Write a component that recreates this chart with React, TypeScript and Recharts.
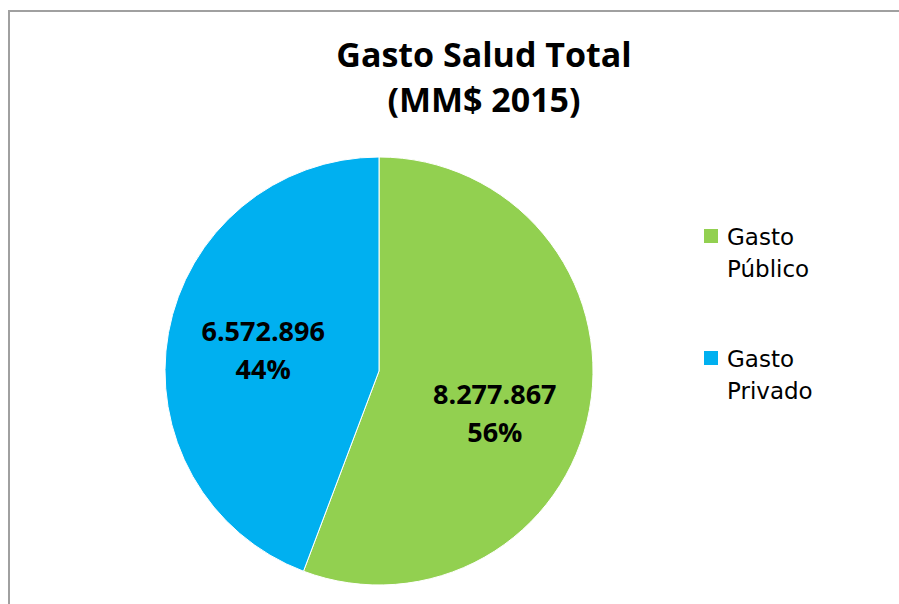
import { PieChart, Pie, Cell } from "recharts";

const categories = ["Gasto Público", "Gasto Privado"];
const values = [8277867, 6572896];
const colors = ["#92D050", "#00B0F0"];

const data = categories.map((name, i) => ({ name, value: values[i] }));
const total = values.reduce((s, v) => s + v, 0);

const fmt = (v: number) => v.toString().replace(/\B(?=(\d{3})+(?!\d))/g, ".");

const labelFont = "'Open Sans', 'DejaVu Sans', sans-serif";

// Excel-style inside label: value on first line, percent on second
const renderLabel = ({ cx, cy, midAngle, outerRadius, index }: any) => {
  const RAD = Math.PI / 180;
  const r = outerRadius * 0.55;
  const x = cx + r * Math.cos(-midAngle * RAD);
  // first slice label sits a bit lower, like in the original
  const y = cy + r * Math.sin(-midAngle * RAD) + (index === 0 ? 21 : 0);
  const pct = Math.round((values[index] / total) * 100);
  return (
    <text
      x={x}
      y={y}
      textAnchor="middle"
      fill="#000"
      fontFamily={labelFont}
      fontWeight={700}
      fontSize={27}
    >
      <tspan x={x} dy={-9}>{fmt(values[index])}</tspan>
      <tspan x={x} dy={38}>{pct + "%"}</tspan>
    </text>
  );
};

export default function App() {
  return (
    <div
      style={{
        position: "absolute",
        left: 0,
        top: 0,
        width: 899,
        height: 604,
        overflow: "hidden",
        background: "#fff",
      }}
    >
      <div
        style={{
          position: "absolute",
          left: 8,
          top: 10,
          width: 1000,
          height: 700,
          borderLeft: "2px solid #a0a0a0",
          borderTop: "2px solid #a0a0a0",
        }}
      />
      <div
        style={{
          position: "absolute",
          left: 284,
          top: 32,
          width: 400,
          textAlign: "center",
          fontFamily: labelFont,
          fontWeight: 700,
          fontSize: 34,
          lineHeight: "45px",
          color: "#000",
        }}
      >
        <div>Gasto Salud Total</div>
        <div>(MM$ 2015)</div>
      </div>
      <div style={{ position: "absolute", left: 0, top: 0 }}>
        <PieChart width={899} height={604} margin={{ top: 0, right: 0, bottom: 0, left: 0 }}>
          <Pie
            data={data}
            dataKey="value"
            nameKey="name"
            cx={379}
            cy={371}
            outerRadius={214}
            startAngle={90}
            endAngle={-270}
            stroke="#fff"
            strokeWidth={1}
            label={renderLabel}
            labelLine={false}
            isAnimationActive={false}
          >
            {data.map((d, i) => (
              <Cell key={d.name} fill={colors[i]} />
            ))}
          </Pie>
        </PieChart>
      </div>
      <div
        style={{
          position: "absolute",
          left: 704,
          top: 221,
          fontFamily: "'DejaVu Sans', sans-serif",
          fontSize: 23,
          color: "#000",
        }}
      >
        {categories.map((c, i) => {
          const [a, b] = c.split(" ");
          return (
            <div key={c} style={{ display: "flex", alignItems: "flex-start", marginBottom: 58 }}>
              <div
                style={{
                  width: 14,
                  height: 14,
                  background: colors[i],
                  marginTop: 8,
                  marginRight: 9,
                  flexShrink: 0,
                }}
              />
              <div style={{ lineHeight: "32px" }}>
                <div>{a}</div>
                <div>{b}</div>
              </div>
            </div>
          );
        })}
      </div>
    </div>
  );
}
